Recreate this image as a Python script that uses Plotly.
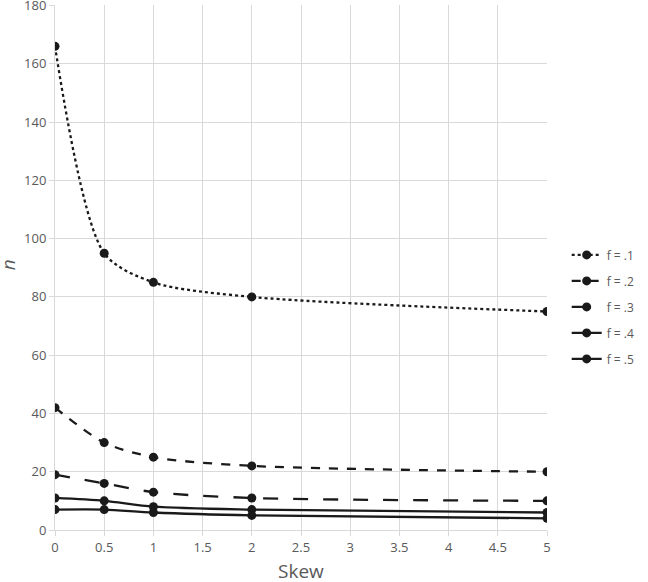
import plotly.graph_objects as go

# skew values on the x axis
skew = [0, 0.5, 1, 2, 5]

# n for each f
f_labels = ["f = .1", "f = .2", "f = .3", "f = .4", "f = .5"]
n_f1 = [166, 95, 85, 80, 75]
n_f2 = [42, 30, 25, 22, 20]
n_f3 = [19, 16, 13, 11, 10]
n_f4 = [11, 10, 8, 7, 6]
n_f5 = [7, 7, 6, 5, 4]

# y tick labels
y_ticks = [0, 20, 40, 60, 80, 100, 120, 140, 160, 180]

series = [n_f1, n_f2, n_f3, n_f4, n_f5]
dashes = ["dot", "dash", "longdash", "solid", "solid"]

fig = go.Figure()
for i, (label, vals) in enumerate(zip(f_labels, series)):
    fig.add_trace(go.Scatter(x=skew,
                             y=vals,
                             name=label,
                             legendgroup=label,
                             mode="lines+markers",
                             line=dict(color="#1a1a1a", width=2.3, dash=dashes[i],
                                       shape="spline", smoothing=0.8),
                             marker=dict(symbol="circle", size=9, color="#1a1a1a")))

fig.update_layout(width=648, height=582,
                  margin=dict(l=55, r=101, t=5, b=52),
                  paper_bgcolor="white",
                  plot_bgcolor="white",
                  font=dict(family="Open Sans", color="#595959", size=13),
                  legend=dict(x=1.04, y=0.425, xanchor="left", yanchor="middle",
                              tracegroupgap=7,
                              font=dict(size=12, color="#595959")),
                  showlegend=True)

# axis titles placed as annotations so the margins stay fixed
fig.add_annotation(text="Skew", x=0.5, y=-0.078, xref="paper", yref="paper",
                   xanchor="center", yanchor="middle", showarrow=False,
                   font=dict(size=19, color="#595959"))
fig.add_annotation(text="<i>n</i>", x=-0.095, y=0.505, xref="paper", yref="paper",
                   xanchor="center", yanchor="middle", showarrow=False, textangle=-90,
                   font=dict(size=19, color="#595959"))

fig.update_xaxes(range=[0, 5], tick0=0, dtick=0.5, automargin=False,
                 showgrid=True, gridcolor="#d9d9d9", gridwidth=1,
                 zeroline=False, showline=True, linecolor="#d9d9d9",
                 ticks="outside", ticklen=5, tickcolor="#d9d9d9")
fig.update_yaxes(range=[0, 180.2], tickmode="array", tickvals=y_ticks, automargin=False,
                 ticklabeloverflow="allow",
                 showgrid=True, gridcolor="#d9d9d9", gridwidth=1,
                 zeroline=False, showline=True, linecolor="#d9d9d9",
                 ticks="outside", ticklen=5, tickcolor="#d9d9d9")

fig.write_html("out.html",
               config={"displayModeBar": False},
               post_script="document.body.style.margin='0';document.body.style.overflow='hidden';")
